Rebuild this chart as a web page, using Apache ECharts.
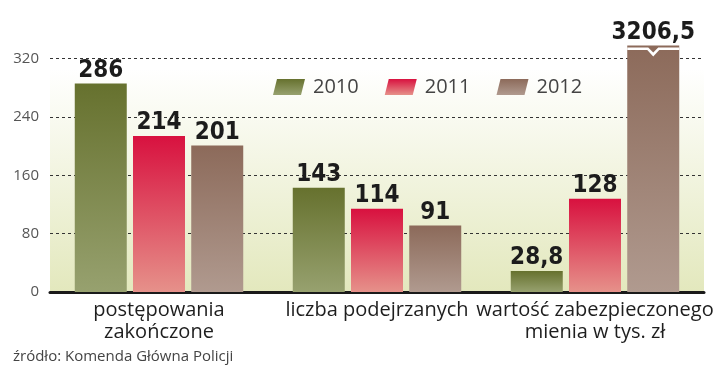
<!DOCTYPE html>
<html>
<head>
<meta charset="utf-8">
<script src="https://cdn.jsdelivr.net/npm/echarts@6/dist/echarts.min.js"></script>
<style>html,body{margin:0;padding:0;background:#fff}#c{width:720px;height:374px}</style>
</head>
<body>
<div id="c"></div>
<script>
const categories = ['postępowania\nzakończone', 'liczba podejrzanych', 'wartość zabezpieczonego\nmienia w tys. zł'];
const years = ['2010', '2011', '2012'];
const values2010 = [286, 143, 28.8];
const values2011 = [214, 114, 128];
const values2012 = [201, 91, 3206.5];
const yTicks = [0, 80, 160, 240, 320];
const source = 'źródło: Komenda Główna Policji';

const AXIS_MAX = 340;
const BAR_CAP = 338;
const gradients = [
  ['#66712e', '#97a16f'],
  ['#d8113f', '#e6918a'],
  ['#8c6a5a', '#b09a8f']
];
const fmt = v => String(v).replace('.', ',');
const allValues = [values2010, values2011, values2012];

const series = years.map((y, i) => {
  const s = {
    name: y,
    type: 'bar',
    barWidth: 52,
    barGap: '12%',
    data: allValues[i].map(v => ({ value: Math.min(v, BAR_CAP), raw: v })),
    itemStyle: {
      color: new echarts.graphic.LinearGradient(0, 0, 0, 1, [
        { offset: 0, color: gradients[i][0] },
        { offset: 1, color: gradients[i][1] }
      ])
    },
    label: {
      show: true,
      position: 'top',
      distance: 1,
      formatter: p => fmt(p.data.raw),
      fontFamily: '"Liberation Sans Narrow", "DejaVu Sans Condensed", "Roboto", sans-serif',
      fontWeight: 'bold',
      fontSize: 24,
      color: '#1c1c1c'
    }
  };
  const broken = allValues[i].map((v, k) => v > BAR_CAP ? k : -1).filter(k => k >= 0);
  if (broken.length) {
    s.markPoint = {
      silent: true,
      symbol: 'path://M0,0 H21 L26,5 L31,0 H52 V2.5 H32 L26,9 L20,2.5 H0 Z',
      symbolSize: [52, 9],
      symbolKeepAspect: false,
      itemStyle: { color: '#ffffff' },
      label: { show: false },
      data: broken.map(k => ({ coord: [k, 329] }))
    };
  }
  return s;
});

const chart = echarts.init(document.getElementById('c'));
chart.setOption({
  animation: false,
  backgroundColor: '#ffffff',
  title: {
    text: source,
    left: 8,
    top: 344,
    textStyle: { fontFamily: '"Open Sans", sans-serif', fontWeight: 'normal', fontSize: 15, color: '#444' }
  },
  legend: {
    data: years,
    left: 268,
    top: 72,
    itemWidth: 32,
    itemHeight: 16,
    itemGap: 26,
    icon: 'path://M4,0 H32 L28,16 H0 Z',
    textStyle: { fontFamily: '"Open Sans", sans-serif', fontSize: 20, color: '#444', padding: [0, 0, 0, 3] }
  },
  grid: {
    left: 50,
    right: 16,
    top: 44,
    bottom: 82,
    show: true,
    borderWidth: 0,
    backgroundColor: new echarts.graphic.LinearGradient(0, 0, 0, 1, [
      { offset: 0, color: '#ffffff' },
      { offset: 0.1, color: '#ffffff' },
      { offset: 1, color: '#e3e8bd' }
    ])
  },
  xAxis: {
    type: 'category',
    data: categories,
    axisTick: { show: false },
    axisLine: { lineStyle: { color: '#1a1a1a', width: 3 } },
    axisLabel: {
      margin: 7,
      fontFamily: '"Open Sans", sans-serif',
      fontSize: 20,
      lineHeight: 22,
      color: '#1e1e1e',
      interval: 0
    }
  },
  yAxis: {
    type: 'value',
    min: 0,
    max: AXIS_MAX,
    interval: 80,
    axisLine: { show: false },
    axisTick: { show: false },
    axisLabel: {
      showMaxLabel: false,
      margin: 11,
      fontFamily: '"Open Sans", sans-serif',
      fontSize: 15,
      color: '#555',
      formatter: v => yTicks.includes(v) ? String(v) : ''
    },
    splitLine: {
      showMaxLine: false,
      showMinLine: false,
      lineStyle: { color: '#333', type: [3, 3], width: 1 }
    }
  },
  series: series
});
</script>
</body>
</html>
